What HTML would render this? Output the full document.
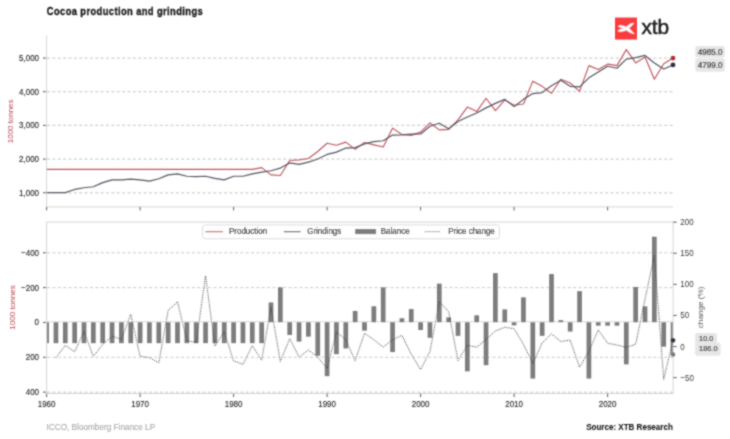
<!DOCTYPE html>
<html><head><meta charset="utf-8"><style>
html,body{margin:0;padding:0;background:#fff;width:730px;height:439px;overflow:hidden}
svg{display:block}
text{font-family:"Liberation Sans", sans-serif}
</style></head><body>
<svg width="730" height="439" viewBox="0 0 730 439">
<defs><filter id="bl" x="0" y="0" width="730" height="439" filterUnits="userSpaceOnUse"><feConvolveMatrix order="3" kernelMatrix="1 2 1 2 8 2 1 2 1" edgeMode="duplicate"/></filter></defs>
<rect width="730" height="439" fill="#fff"/>
<g filter="url(#bl)"><g transform="translate(0,0.35)">
<text letter-spacing="0.5" transform="translate(46.80,14.55) scale(0.8,1)" font-size="11.7" text-anchor="start" fill="#111" font-weight="bold" stroke="#111" stroke-width="0.3">Cocoa production and grindings</text>
<line x1="46.6" y1="192.40" x2="673.1" y2="192.40" stroke="#d0d0d0" stroke-width="1.25" stroke-dasharray="3 2.367" stroke-dashoffset="-0.35"/>
<line x1="43.0" y1="192.40" x2="46.6" y2="192.40" stroke="#444" stroke-width="0.9"/>
<text transform="translate(39.00,195.35) scale(0.83,1)" font-size="9.6" text-anchor="end" fill="#1f1f1f" stroke="#1f1f1f" stroke-width="0.12">1,000</text>
<line x1="46.6" y1="158.73" x2="673.1" y2="158.73" stroke="#d0d0d0" stroke-width="1.25" stroke-dasharray="3 2.367" stroke-dashoffset="-0.35"/>
<line x1="43.0" y1="158.73" x2="46.6" y2="158.73" stroke="#444" stroke-width="0.9"/>
<text transform="translate(39.00,161.68) scale(0.83,1)" font-size="9.6" text-anchor="end" fill="#1f1f1f" stroke="#1f1f1f" stroke-width="0.12">2,000</text>
<line x1="46.6" y1="125.05" x2="673.1" y2="125.05" stroke="#d0d0d0" stroke-width="1.25" stroke-dasharray="3 2.367" stroke-dashoffset="-0.35"/>
<line x1="43.0" y1="125.05" x2="46.6" y2="125.05" stroke="#444" stroke-width="0.9"/>
<text transform="translate(39.00,128.00) scale(0.83,1)" font-size="9.6" text-anchor="end" fill="#1f1f1f" stroke="#1f1f1f" stroke-width="0.12">3,000</text>
<line x1="46.6" y1="91.38" x2="673.1" y2="91.38" stroke="#d0d0d0" stroke-width="1.25" stroke-dasharray="3 2.367" stroke-dashoffset="-0.35"/>
<line x1="43.0" y1="91.38" x2="46.6" y2="91.38" stroke="#444" stroke-width="0.9"/>
<text transform="translate(39.00,94.33) scale(0.83,1)" font-size="9.6" text-anchor="end" fill="#1f1f1f" stroke="#1f1f1f" stroke-width="0.12">4,000</text>
<line x1="46.6" y1="57.70" x2="673.1" y2="57.70" stroke="#d0d0d0" stroke-width="1.25" stroke-dasharray="3 2.367" stroke-dashoffset="-0.35"/>
<line x1="43.0" y1="57.70" x2="46.6" y2="57.70" stroke="#444" stroke-width="0.9"/>
<text transform="translate(39.00,60.65) scale(0.83,1)" font-size="9.6" text-anchor="end" fill="#1f1f1f" stroke="#1f1f1f" stroke-width="0.12">5,000</text>
<line x1="46.6" y1="35" x2="46.6" y2="206.5" stroke="#d6d6d6" stroke-width="1"/>
<line x1="46.6" y1="206.5" x2="673.1" y2="206.5" stroke="#d6d6d6" stroke-width="1"/>
<line x1="46.60" y1="206.5" x2="46.60" y2="210.0" stroke="#444" stroke-width="0.9"/>
<line x1="140.10" y1="206.5" x2="140.10" y2="210.0" stroke="#444" stroke-width="0.9"/>
<line x1="233.60" y1="206.5" x2="233.60" y2="210.0" stroke="#444" stroke-width="0.9"/>
<line x1="327.10" y1="206.5" x2="327.10" y2="210.0" stroke="#444" stroke-width="0.9"/>
<line x1="420.60" y1="206.5" x2="420.60" y2="210.0" stroke="#444" stroke-width="0.9"/>
<line x1="514.10" y1="206.5" x2="514.10" y2="210.0" stroke="#444" stroke-width="0.9"/>
<line x1="607.60" y1="206.5" x2="607.60" y2="210.0" stroke="#444" stroke-width="0.9"/>
<text transform="translate(12.6,121) scale(0.8,1) rotate(-90)" font-size="7.95" fill="#b9404c" text-anchor="middle">1000 tonnes</text>
<polyline points="46.60,169.00 55.95,169.00 65.30,169.00 74.65,169.00 84.00,169.00 93.35,169.00 102.70,169.00 112.05,169.00 121.40,169.00 130.75,169.00 140.10,169.00 149.45,169.00 158.80,169.00 168.15,169.00 177.50,169.00 186.85,169.00 196.20,169.00 205.55,169.00 214.90,169.00 224.25,169.00 233.60,169.00 242.95,169.00 252.30,169.00 261.65,167.30 271.00,174.50 280.35,175.20 289.70,160.10 299.05,159.50 308.40,158.10 317.75,151.20 327.10,142.90 336.45,144.90 345.80,141.80 355.15,149.00 364.50,142.20 373.85,144.50 383.20,146.70 392.55,127.80 401.90,134.20 411.25,135.00 420.60,131.80 429.95,122.60 439.30,129.50 448.65,129.00 458.00,119.50 467.35,106.70 476.70,111.20 486.05,97.90 495.40,110.20 504.75,99.70 514.10,104.90 523.45,103.60 532.80,80.80 542.15,86.00 551.50,92.90 560.85,78.90 570.20,82.60 579.55,91.00 588.90,65.30 598.25,69.10 607.60,63.80 616.95,65.30 626.30,49.30 635.65,62.60 645.00,56.60 654.35,78.90 663.70,63.40 673.05,57.70" fill="none" stroke="#bf5560" stroke-width="1.15" stroke-linejoin="round"/>
<polyline points="46.60,192.30 55.95,192.30 65.30,192.30 74.65,189.10 84.00,187.40 93.35,186.40 102.70,182.30 112.05,179.50 121.40,179.50 130.75,178.70 140.10,179.50 149.45,180.70 158.80,178.40 168.15,174.50 177.50,173.60 186.85,175.90 196.20,176.30 205.55,175.90 214.90,178.10 224.25,179.50 233.60,175.90 242.95,175.90 252.30,173.60 261.65,171.80 271.00,170.40 280.35,167.70 289.70,162.60 299.05,164.00 308.40,161.80 317.75,158.70 327.10,154.10 336.45,151.80 345.80,147.70 355.15,147.30 364.50,143.60 373.85,141.20 383.20,140.40 392.55,134.70 401.90,134.60 411.25,133.70 420.60,133.60 429.95,125.90 439.30,122.90 448.65,128.40 458.00,121.20 467.35,116.70 476.70,112.60 486.05,107.50 495.40,103.00 504.75,99.00 514.10,106.30 523.45,99.00 532.80,93.20 542.15,92.20 551.50,85.30 560.85,79.90 570.20,86.00 579.55,86.50 588.90,77.50 598.25,71.60 607.60,65.90 616.95,67.90 626.30,58.80 635.65,57.30 645.00,55.10 654.35,62.60 663.70,68.60 673.05,64.60" fill="none" stroke="#515661" stroke-width="1.2" stroke-linejoin="round"/>
<circle cx="673" cy="57.7" r="2.4" fill="#b52a30"/>
<circle cx="673" cy="64.6" r="2.4" fill="#2c3340"/>
<rect x="695.3" y="45.75" width="29.5" height="11.3" rx="2.2" fill="#e6e6e6"/>
<rect x="695.3" y="57.95" width="29.5" height="13.4" rx="2.2" fill="#e6e6e6"/>
<text transform="translate(697.80,54.85) scale(0.86,1)" font-size="9.4" text-anchor="start" fill="#222" stroke="#222" stroke-width="0.2">4985.0</text>
<text transform="translate(697.80,67.35) scale(0.86,1)" font-size="9.4" text-anchor="start" fill="#222" stroke="#222" stroke-width="0.2">4799.0</text>
<rect x="615" y="17.2" width="22" height="22" fill="#fb3a3c"/>
<path transform="translate(615,17.2)" d="M2.85,8.6 Q5.4,6.5 11.15,9.2 Q15.85,4.85 19.15,5.5 Q16.1,9.1 14.2,10.7 Q15.8,12.35 19.8,16.6 Q15.5,16 11.15,12.6 Q5.7,15.15 2.23,13.5 Q5.8,10.7 8.6,10.7 Q5.5,10.35 2.85,8.6 Z" fill="#fff"/>
<text x="641.4" y="33.6" font-size="19.4" fill="#222" stroke="#222" stroke-width="0.5" textLength="27.8" lengthAdjust="spacingAndGlyphs">xtb</text>
<line x1="46.6" y1="252.40" x2="673.1" y2="252.40" stroke="#c4c4c4" stroke-width="0.9" stroke-dasharray="3 2.367" stroke-dashoffset="-0.5"/>
<line x1="43.0" y1="252.40" x2="46.6" y2="252.40" stroke="#444" stroke-width="0.9"/>
<text transform="translate(39.00,255.35) scale(0.83,1)" font-size="9.6" text-anchor="end" fill="#1f1f1f" stroke="#1f1f1f" stroke-width="0.12">−400</text>
<line x1="46.6" y1="287.25" x2="673.1" y2="287.25" stroke="#c4c4c4" stroke-width="0.9" stroke-dasharray="3 2.367" stroke-dashoffset="-0.5"/>
<line x1="43.0" y1="287.25" x2="46.6" y2="287.25" stroke="#444" stroke-width="0.9"/>
<text transform="translate(39.00,290.20) scale(0.83,1)" font-size="9.6" text-anchor="end" fill="#1f1f1f" stroke="#1f1f1f" stroke-width="0.12">−200</text>
<line x1="43.0" y1="322.10" x2="46.6" y2="322.10" stroke="#444" stroke-width="0.9"/>
<text transform="translate(39.00,325.05) scale(0.83,1)" font-size="9.6" text-anchor="end" fill="#1f1f1f" stroke="#1f1f1f" stroke-width="0.12">0</text>
<line x1="46.6" y1="356.95" x2="673.1" y2="356.95" stroke="#c4c4c4" stroke-width="0.9" stroke-dasharray="3 2.367" stroke-dashoffset="-0.5"/>
<line x1="43.0" y1="356.95" x2="46.6" y2="356.95" stroke="#444" stroke-width="0.9"/>
<text transform="translate(39.00,359.90) scale(0.83,1)" font-size="9.6" text-anchor="end" fill="#1f1f1f" stroke="#1f1f1f" stroke-width="0.12">200</text>
<line x1="46.6" y1="391.80" x2="673.1" y2="391.80" stroke="#c4c4c4" stroke-width="0.9" stroke-dasharray="3 2.367" stroke-dashoffset="-0.5"/>
<line x1="43.0" y1="391.80" x2="46.6" y2="391.80" stroke="#444" stroke-width="0.9"/>
<text transform="translate(39.00,394.75) scale(0.83,1)" font-size="9.6" text-anchor="end" fill="#1f1f1f" stroke="#1f1f1f" stroke-width="0.12">400</text>
<line x1="46.6" y1="321.3" x2="673.1" y2="321.3" stroke="#e2e2e2" stroke-width="1.3"/>
<rect x="46.60" y="321.85" width="2.35" height="20.95" fill="#7d7d7d"/>
<rect x="53.60" y="321.85" width="4.70" height="20.95" fill="#7d7d7d"/>
<rect x="62.95" y="321.85" width="4.70" height="20.95" fill="#7d7d7d"/>
<rect x="72.30" y="321.85" width="4.70" height="20.95" fill="#7d7d7d"/>
<rect x="81.65" y="321.85" width="4.70" height="20.95" fill="#7d7d7d"/>
<rect x="91.00" y="321.85" width="4.70" height="20.95" fill="#7d7d7d"/>
<rect x="100.35" y="321.85" width="4.70" height="20.95" fill="#7d7d7d"/>
<rect x="109.70" y="321.85" width="4.70" height="20.95" fill="#7d7d7d"/>
<rect x="119.05" y="321.85" width="4.70" height="20.95" fill="#7d7d7d"/>
<rect x="128.40" y="321.85" width="4.70" height="20.95" fill="#7d7d7d"/>
<rect x="137.75" y="321.85" width="4.70" height="20.95" fill="#7d7d7d"/>
<rect x="147.10" y="321.85" width="4.70" height="20.95" fill="#7d7d7d"/>
<rect x="156.45" y="321.85" width="4.70" height="20.95" fill="#7d7d7d"/>
<rect x="165.80" y="321.85" width="4.70" height="20.95" fill="#7d7d7d"/>
<rect x="175.15" y="321.85" width="4.70" height="20.95" fill="#7d7d7d"/>
<rect x="184.50" y="321.85" width="4.70" height="20.95" fill="#7d7d7d"/>
<rect x="193.85" y="321.85" width="4.70" height="20.95" fill="#7d7d7d"/>
<rect x="203.20" y="321.85" width="4.70" height="20.95" fill="#7d7d7d"/>
<rect x="212.55" y="321.85" width="4.70" height="20.95" fill="#7d7d7d"/>
<rect x="221.90" y="321.85" width="4.70" height="20.95" fill="#7d7d7d"/>
<rect x="231.25" y="321.85" width="4.70" height="20.95" fill="#7d7d7d"/>
<rect x="240.60" y="321.85" width="4.70" height="20.95" fill="#7d7d7d"/>
<rect x="249.95" y="321.85" width="4.70" height="20.95" fill="#7d7d7d"/>
<rect x="259.30" y="321.85" width="4.70" height="20.95" fill="#7d7d7d"/>
<rect x="268.65" y="302.10" width="4.70" height="19.75" fill="#7d7d7d"/>
<rect x="278.00" y="287.00" width="4.70" height="34.85" fill="#7d7d7d"/>
<rect x="287.35" y="321.85" width="4.70" height="12.75" fill="#7d7d7d"/>
<rect x="296.70" y="321.85" width="4.70" height="19.35" fill="#7d7d7d"/>
<rect x="306.05" y="321.85" width="4.70" height="14.45" fill="#7d7d7d"/>
<rect x="315.40" y="321.85" width="4.70" height="33.55" fill="#7d7d7d"/>
<rect x="324.75" y="321.85" width="4.70" height="53.95" fill="#7d7d7d"/>
<rect x="334.10" y="321.85" width="4.70" height="31.95" fill="#7d7d7d"/>
<rect x="343.45" y="321.85" width="4.70" height="26.25" fill="#7d7d7d"/>
<rect x="352.80" y="310.60" width="4.70" height="11.25" fill="#7d7d7d"/>
<rect x="362.15" y="321.85" width="4.70" height="8.45" fill="#7d7d7d"/>
<rect x="371.50" y="305.90" width="4.70" height="15.95" fill="#7d7d7d"/>
<rect x="380.85" y="287.00" width="4.70" height="34.85" fill="#7d7d7d"/>
<rect x="390.20" y="321.85" width="4.70" height="29.85" fill="#7d7d7d"/>
<rect x="399.55" y="317.90" width="4.70" height="3.95" fill="#7d7d7d"/>
<rect x="408.90" y="308.70" width="4.70" height="13.15" fill="#7d7d7d"/>
<rect x="418.25" y="321.85" width="4.70" height="7.85" fill="#7d7d7d"/>
<rect x="427.60" y="321.85" width="4.70" height="15.55" fill="#7d7d7d"/>
<rect x="436.95" y="283.30" width="4.70" height="38.55" fill="#7d7d7d"/>
<rect x="446.30" y="317.00" width="4.70" height="4.85" fill="#7d7d7d"/>
<rect x="455.65" y="321.85" width="4.70" height="13.65" fill="#7d7d7d"/>
<rect x="465.00" y="321.85" width="4.70" height="49.15" fill="#7d7d7d"/>
<rect x="474.35" y="315.00" width="4.70" height="6.85" fill="#7d7d7d"/>
<rect x="483.70" y="321.85" width="4.70" height="42.95" fill="#7d7d7d"/>
<rect x="493.05" y="272.80" width="4.70" height="49.05" fill="#7d7d7d"/>
<rect x="502.40" y="309.00" width="4.70" height="12.85" fill="#7d7d7d"/>
<rect x="511.75" y="321.85" width="4.70" height="3.15" fill="#7d7d7d"/>
<rect x="521.10" y="297.00" width="4.70" height="24.85" fill="#7d7d7d"/>
<rect x="530.45" y="321.85" width="4.70" height="56.35" fill="#7d7d7d"/>
<rect x="539.80" y="321.85" width="4.70" height="13.65" fill="#7d7d7d"/>
<rect x="549.15" y="273.70" width="4.70" height="48.15" fill="#7d7d7d"/>
<rect x="558.50" y="319.80" width="4.70" height="2.05" fill="#7d7d7d"/>
<rect x="567.85" y="321.85" width="4.70" height="9.35" fill="#7d7d7d"/>
<rect x="577.20" y="290.80" width="4.70" height="31.05" fill="#7d7d7d"/>
<rect x="586.55" y="321.85" width="4.70" height="56.35" fill="#7d7d7d"/>
<rect x="595.90" y="321.85" width="4.70" height="3.45" fill="#7d7d7d"/>
<rect x="605.25" y="321.85" width="4.70" height="3.45" fill="#7d7d7d"/>
<rect x="614.60" y="321.85" width="4.70" height="3.45" fill="#7d7d7d"/>
<rect x="623.95" y="321.85" width="4.70" height="42.15" fill="#7d7d7d"/>
<rect x="633.30" y="286.60" width="4.70" height="35.25" fill="#7d7d7d"/>
<rect x="642.65" y="306.00" width="4.70" height="15.85" fill="#7d7d7d"/>
<rect x="652.00" y="236.40" width="4.70" height="85.45" fill="#7d7d7d"/>
<rect x="661.35" y="321.85" width="4.70" height="24.45" fill="#7d7d7d"/>
<rect x="670.70" y="321.85" width="2.40" height="32.35" fill="#7d7d7d"/>
<polyline points="55.95,357.40 65.30,345.00 74.65,351.40 84.00,331.10 93.35,356.10 102.70,344.00 112.05,335.90 121.40,339.00 130.75,314.00 140.10,356.00 149.45,357.20 158.80,362.30 168.15,310.10 177.50,301.40 186.85,340.20 196.20,342.20 205.55,275.50 214.90,345.70 224.25,331.40 233.60,360.50 242.95,364.00 252.30,345.40 261.65,359.70 271.00,307.00 280.35,361.10 289.70,338.30 299.05,356.80 308.40,349.70 317.75,356.80 327.10,368.20 336.45,331.60 345.80,339.40 355.15,360.40 364.50,332.90 373.85,339.40 383.20,346.80 392.55,339.40 401.90,335.00 411.25,353.80 420.60,369.20 429.95,351.10 439.30,301.30 448.65,311.30 458.00,360.20 467.35,344.90 476.70,346.80 486.05,339.20 495.40,330.60 504.75,326.90 514.10,328.30 523.45,344.00 532.80,363.10 542.15,342.60 551.50,333.50 560.85,341.20 570.20,339.70 579.55,366.80 588.90,351.10 598.25,329.50 607.60,342.80 616.95,344.70 626.30,346.90 635.65,344.00 645.00,299.00 654.35,255.00 663.70,379.00 673.05,340.00" fill="none" stroke="#222" stroke-width="0.9" stroke-dasharray="1 1.3"/>
<rect x="46.6" y="221.7" width="626.50" height="171.50" fill="none" stroke="#d6d6d6" stroke-width="1"/>
<line x1="46.60" y1="393.2" x2="46.60" y2="396.7" stroke="#444" stroke-width="0.9"/>
<text transform="translate(46.60,406.15) scale(0.83,1)" font-size="9.6" text-anchor="middle" fill="#1f1f1f" stroke="#1f1f1f" stroke-width="0.12">1960</text>
<line x1="140.10" y1="393.2" x2="140.10" y2="396.7" stroke="#444" stroke-width="0.9"/>
<text transform="translate(140.10,406.15) scale(0.83,1)" font-size="9.6" text-anchor="middle" fill="#1f1f1f" stroke="#1f1f1f" stroke-width="0.12">1970</text>
<line x1="233.60" y1="393.2" x2="233.60" y2="396.7" stroke="#444" stroke-width="0.9"/>
<text transform="translate(233.60,406.15) scale(0.83,1)" font-size="9.6" text-anchor="middle" fill="#1f1f1f" stroke="#1f1f1f" stroke-width="0.12">1980</text>
<line x1="327.10" y1="393.2" x2="327.10" y2="396.7" stroke="#444" stroke-width="0.9"/>
<text transform="translate(327.10,406.15) scale(0.83,1)" font-size="9.6" text-anchor="middle" fill="#1f1f1f" stroke="#1f1f1f" stroke-width="0.12">1990</text>
<line x1="420.60" y1="393.2" x2="420.60" y2="396.7" stroke="#444" stroke-width="0.9"/>
<text transform="translate(420.60,406.15) scale(0.83,1)" font-size="9.6" text-anchor="middle" fill="#1f1f1f" stroke="#1f1f1f" stroke-width="0.12">2000</text>
<line x1="514.10" y1="393.2" x2="514.10" y2="396.7" stroke="#444" stroke-width="0.9"/>
<text transform="translate(514.10,406.15) scale(0.83,1)" font-size="9.6" text-anchor="middle" fill="#1f1f1f" stroke="#1f1f1f" stroke-width="0.12">2010</text>
<line x1="607.60" y1="393.2" x2="607.60" y2="396.7" stroke="#444" stroke-width="0.9"/>
<text transform="translate(607.60,406.15) scale(0.83,1)" font-size="9.6" text-anchor="middle" fill="#1f1f1f" stroke="#1f1f1f" stroke-width="0.12">2020</text>
<circle cx="673" cy="340" r="2.3" fill="#2c3340"/>
<circle cx="673" cy="354.2" r="2.3" fill="#7a7a7a"/>
<text transform="translate(15.1,307.2) scale(0.8,1) rotate(-90)" font-size="8.1" fill="#b9404c" text-anchor="middle">1000 tonnes</text>
<line x1="673.1" y1="221.80" x2="676.7" y2="221.80" stroke="#444" stroke-width="0.9"/>
<text transform="translate(680.30,224.80) scale(0.83,1)" font-size="9.6" text-anchor="start" fill="#3a3a3a">200</text>
<line x1="673.1" y1="252.90" x2="676.7" y2="252.90" stroke="#444" stroke-width="0.9"/>
<text transform="translate(680.30,255.90) scale(0.83,1)" font-size="9.6" text-anchor="start" fill="#3a3a3a">150</text>
<line x1="673.1" y1="284.00" x2="676.7" y2="284.00" stroke="#444" stroke-width="0.9"/>
<text transform="translate(680.30,287.00) scale(0.83,1)" font-size="9.6" text-anchor="start" fill="#3a3a3a">100</text>
<line x1="673.1" y1="315.10" x2="676.7" y2="315.10" stroke="#444" stroke-width="0.9"/>
<text transform="translate(680.30,318.10) scale(0.83,1)" font-size="9.6" text-anchor="start" fill="#3a3a3a">50</text>
<line x1="673.1" y1="346.20" x2="676.7" y2="346.20" stroke="#444" stroke-width="0.9"/>
<text transform="translate(680.30,349.20) scale(0.83,1)" font-size="9.6" text-anchor="start" fill="#3a3a3a">0</text>
<line x1="673.1" y1="377.30" x2="676.7" y2="377.30" stroke="#444" stroke-width="0.9"/>
<text transform="translate(680.30,380.30) scale(0.83,1)" font-size="9.6" text-anchor="start" fill="#3a3a3a">−50</text>
<text transform="translate(702.8,307) scale(0.8,1) rotate(-90)" font-size="8.2" fill="#555" text-anchor="middle">change (%)</text>
<rect x="695.1" y="332.75" width="21.9" height="10.9" rx="2.2" fill="#e6e6e6"/>
<rect x="695.1" y="342.25" width="25.5" height="13.1" rx="2.2" fill="#e6e6e6"/>
<text transform="translate(699.10,341.05) scale(0.97,1)" font-size="7.6" text-anchor="start" fill="#2a2a2a" stroke="#2a2a2a" stroke-width="0.15">10.0</text>
<text transform="translate(699.10,350.95) scale(0.97,1)" font-size="7.6" text-anchor="start" fill="#2a2a2a" stroke="#2a2a2a" stroke-width="0.15">186.0</text>
<rect x="202.7" y="224.6" width="296.6" height="13.8" rx="2" fill="#fff" stroke="#d8d8d8" stroke-width="0.9"/>
<line x1="205.5" y1="231.3" x2="223" y2="231.3" stroke="#c85a64" stroke-width="1.2"/>
<text transform="translate(229.00,233.65) scale(0.83,1)" font-size="9.6" text-anchor="start" fill="#151515" stroke="#151515" stroke-width="0.16">Production</text>
<line x1="283.8" y1="231.3" x2="300.6" y2="231.3" stroke="#5d6370" stroke-width="1.2"/>
<text transform="translate(307.20,233.65) scale(0.83,1)" font-size="9.6" text-anchor="start" fill="#151515" stroke="#151515" stroke-width="0.16">Grindings</text>
<rect x="355.1" y="228.6" width="21" height="5.2" fill="#7d7d7d"/>
<text transform="translate(380.80,233.65) scale(0.83,1)" font-size="9.6" text-anchor="start" fill="#151515" stroke="#151515" stroke-width="0.16">Balance</text>
<line x1="425" y1="231.3" x2="440.6" y2="231.3" stroke="#222" stroke-width="0.9" stroke-dasharray="1 1.3"/>
<text transform="translate(448.30,233.65) scale(0.83,1)" font-size="9.6" text-anchor="start" fill="#151515" stroke="#151515" stroke-width="0.16">Price change</text>
<text transform="translate(46.50,429.35) scale(0.865,1)" font-size="9.5" text-anchor="start" fill="#a6a6a6" stroke="#a6a6a6" stroke-width="0.1">ICCO, Bloomberg Finance LP</text>
<text transform="translate(672.80,429.15) scale(0.875,1)" font-size="9.2" text-anchor="end" fill="#1a1a1a" font-weight="bold" stroke="#1a1a1a" stroke-width="0.1">Source: XTB Research</text>
</g></g>
</svg>
</body></html>
